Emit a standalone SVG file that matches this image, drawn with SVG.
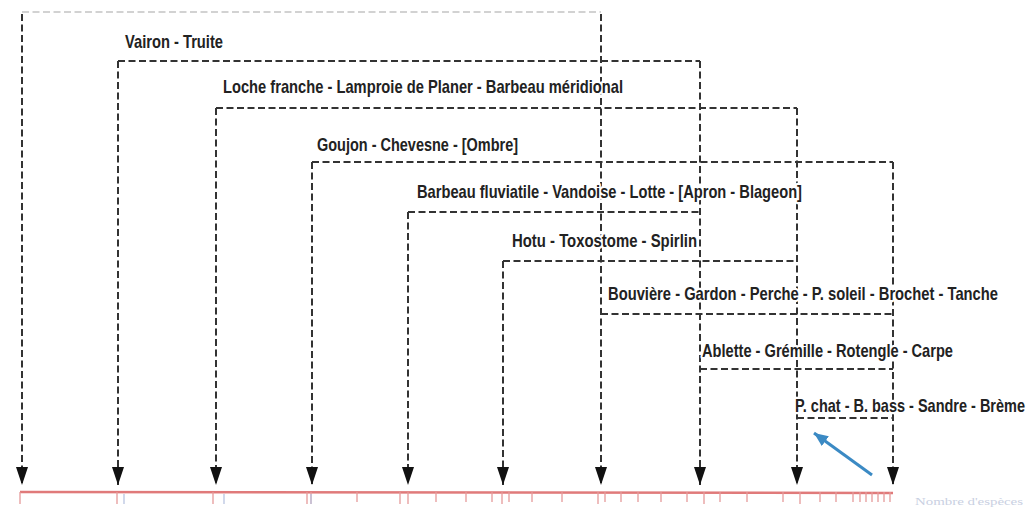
<svg xmlns="http://www.w3.org/2000/svg" width="1031" height="508" viewBox="0 0 1031 508">
<style>
.c{fill:none;stroke:#333;stroke-width:2;stroke-dasharray:7 3.5}
.cf{fill:none;stroke:#c4c4c4;stroke-width:1.5;stroke-dasharray:7 3.5}
.t{font-family:"Liberation Sans",Arial,sans-serif;font-size:14px;font-weight:bold;fill:#222;stroke:#fff;stroke-width:3.5;paint-order:stroke;stroke-linejoin:round}
.tick{stroke:#e59a9a;stroke-width:1.3}
.tickb{stroke:#b8c4e0;stroke-width:1.3}
</style>
<defs>
<marker id="ah" markerUnits="userSpaceOnUse" markerWidth="20" markerHeight="14" viewBox="0 -7 20 14" refX="18" refY="0" orient="auto">
<path d="M0,-6 L18,0 L0,6 z" fill="#111"/>
</marker>
<marker id="bh" markerUnits="userSpaceOnUse" markerWidth="16" markerHeight="14" viewBox="0 -7 16 14" refX="14" refY="0" orient="auto">
<path d="M0,-6 L14,0 L0,6 z" fill="#3b8ac4"/>
</marker>
</defs>
<rect width="1031" height="508" fill="#fff"/>

<g id="axis">
<line x1="20" y1="492" x2="893" y2="493" stroke="#e07a7a" stroke-width="2.5"/>
<g class="tick">
<line x1="20" y1="492" x2="20" y2="504"/><line x1="117" y1="492" x2="117" y2="504"/><line x1="213" y1="492" x2="213" y2="504"/>
<line x1="307" y1="492" x2="307" y2="504"/><line x1="311" y1="492" x2="311" y2="504"/><line x1="357" y1="492" x2="357" y2="502"/>
<line x1="400" y1="492" x2="400" y2="504"/><line x1="408" y1="492" x2="408" y2="504"/><line x1="436" y1="492" x2="436" y2="502"/>
<line x1="466" y1="492" x2="466" y2="502"/><line x1="492" y1="492" x2="492" y2="502"/><line x1="502" y1="492" x2="502" y2="504"/>
<line x1="509" y1="492" x2="509" y2="502"/><line x1="532" y1="492" x2="532" y2="502"/><line x1="562" y1="492" x2="562" y2="502"/>
<line x1="598" y1="492" x2="598" y2="504"/><line x1="605" y1="492" x2="605" y2="502"/><line x1="621" y1="492" x2="621" y2="502"/>
<line x1="638" y1="492" x2="638" y2="502"/><line x1="661" y1="492" x2="661" y2="502"/><line x1="687" y1="492" x2="687" y2="502"/>
<line x1="704" y1="492" x2="704" y2="504"/><line x1="720" y1="492" x2="720" y2="502"/><line x1="747" y1="492" x2="747" y2="502"/>
<line x1="783" y1="492" x2="783" y2="502"/><line x1="800" y1="492" x2="800" y2="504"/><line x1="820" y1="492" x2="820" y2="502"/>
<line x1="836" y1="492" x2="836" y2="502"/><line x1="853" y1="492" x2="853" y2="502"/><line x1="860" y1="492" x2="860" y2="502"/>
<line x1="866" y1="492" x2="866" y2="502"/><line x1="872" y1="492" x2="872" y2="502"/><line x1="878" y1="492" x2="878" y2="502"/>
<line x1="884" y1="492" x2="884" y2="502"/><line x1="890" y1="492" x2="890" y2="502"/>
</g>
<g class="tickb">
<line x1="124" y1="494" x2="124" y2="504"/><line x1="224" y1="494" x2="224" y2="504"/><line x1="311" y1="494" x2="311" y2="504"/>
</g>
<text x="915" y="505" font-family="'Liberation Serif',serif" font-size="10" fill="#c9d0e2" textLength="108" lengthAdjust="spacingAndGlyphs">Nombre d'espèces</text>
</g>

<g id="connectors">
<line class="cf" x1="22" y1="12" x2="601" y2="12"/>
<line class="c" x1="118" y1="61" x2="700" y2="61"/>
<line class="c" x1="216" y1="108" x2="797" y2="108"/>
<line class="c" x1="312" y1="162" x2="893" y2="162"/>
<line class="c" x1="408" y1="212" x2="700" y2="212"/>
<line class="c" x1="503" y1="261" x2="797" y2="261"/>
<line class="c" x1="601" y1="314" x2="893" y2="314"/>
<line class="c" x1="700" y1="369" x2="893" y2="369"/>
<line class="c" x1="797" y1="418" x2="893" y2="418"/>

<line class="c" x1="22" y1="14" x2="22" y2="485" marker-end="url(#ah)"/>
<line class="c" x1="118" y1="61" x2="118" y2="485" marker-end="url(#ah)"/>
<line class="c" x1="216" y1="108" x2="216" y2="485" marker-end="url(#ah)"/>
<line class="c" x1="312" y1="162" x2="312" y2="485" marker-end="url(#ah)"/>
<line class="c" x1="408" y1="212" x2="408" y2="485" marker-end="url(#ah)"/>
<line class="c" x1="503" y1="261" x2="503" y2="485" marker-end="url(#ah)"/>
<line class="c" x1="601" y1="14" x2="601" y2="485" marker-end="url(#ah)"/>
<line class="c" x1="700" y1="61" x2="700" y2="485" marker-end="url(#ah)"/>
<line class="c" x1="797" y1="108" x2="797" y2="485" marker-end="url(#ah)"/>
<line class="c" x1="893" y1="162" x2="893" y2="485" marker-end="url(#ah)"/>

<line x1="872" y1="475" x2="814" y2="433" stroke="#3b8ac4" stroke-width="3" marker-end="url(#bh)"/>
</g>

<g id="g1" transform="translate(125,48) scale(1,1.25)"><text class="t" x="0" y="0" textLength="98" lengthAdjust="spacingAndGlyphs">Vairon - Truite</text></g>
<g id="g2" transform="translate(223,93) scale(1,1.25)"><text class="t" x="0" y="0" textLength="400" lengthAdjust="spacingAndGlyphs">Loche franche - Lamproie de Planer - Barbeau méridional</text></g>
<g id="g3" transform="translate(317,151) scale(1,1.25)"><text class="t" x="0" y="0" textLength="201" lengthAdjust="spacingAndGlyphs">Goujon - Chevesne - [Ombre]</text></g>
<g id="g4" transform="translate(417,198) scale(1,1.25)"><text class="t" x="0" y="0" textLength="385" lengthAdjust="spacingAndGlyphs">Barbeau fluviatile - Vandoise - Lotte - [Apron - Blageon]</text></g>
<g id="g5" transform="translate(512,247) scale(1,1.25)"><text class="t" x="0" y="0" textLength="185" lengthAdjust="spacingAndGlyphs">Hotu - Toxostome - Spirlin</text></g>
<g id="g6" transform="translate(608,300) scale(1,1.25)"><text class="t" x="0" y="0" textLength="390" lengthAdjust="spacingAndGlyphs">Bouvière - Gardon - Perche - P. soleil - Brochet - Tanche</text></g>
<g id="g7" transform="translate(702,357) scale(1,1.25)"><text class="t" x="0" y="0" textLength="251" lengthAdjust="spacingAndGlyphs">Ablette - Grémille - Rotengle - Carpe</text></g>
<g id="g8" transform="translate(795,412) scale(1,1.25)"><text class="t" x="0" y="0" textLength="230" lengthAdjust="spacingAndGlyphs">P. chat - B. bass - Sandre - Brème</text></g>
</svg>
